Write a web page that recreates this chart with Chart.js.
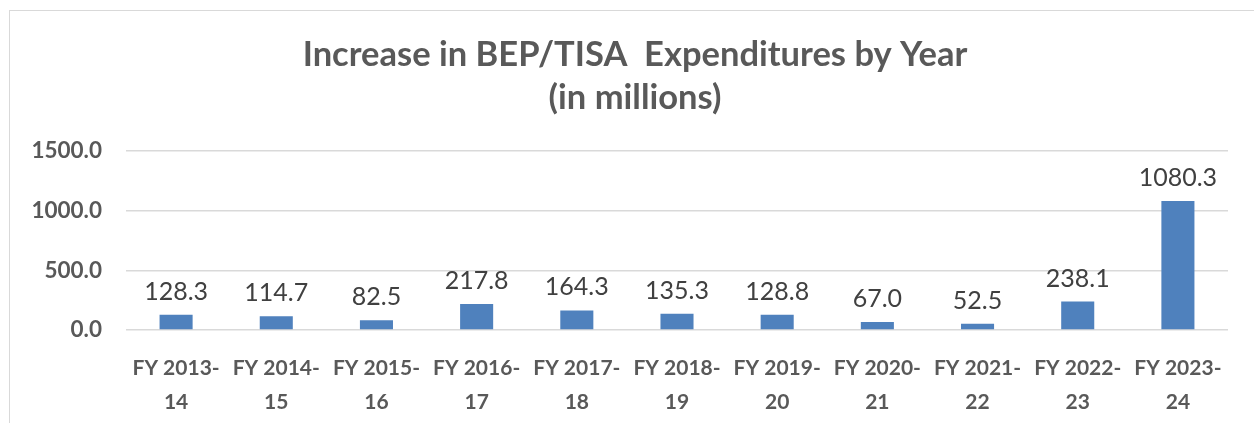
<!DOCTYPE html>
<html>
<head>
<meta charset="utf-8">
<script src="https://cdn.jsdelivr.net/npm/chart.js@4"></script>
<style>
  html, body { margin: 0; padding: 0; background: #fff; overflow: hidden; }
  #frame {
    position: absolute; left: 9px; top: 10px;
    width: 1252px; height: 421px;
    border-left: 1px solid #d9d9d9; border-top: 1px solid #d9d9d9;
  }
  canvas { display: block; }
</style>
</head>
<body>
<div id="frame"><canvas id="expChart" width="1252" height="421"></canvas></div>
<script>
// fiscal years on the x axis (two-line labels)
const years = [
  ['FY 2013-', '14'], ['FY 2014-', '15'], ['FY 2015-', '16'], ['FY 2016-', '17'],
  ['FY 2017-', '18'], ['FY 2018-', '19'], ['FY 2019-', '20'], ['FY 2020-', '21'],
  ['FY 2021-', '22'], ['FY 2022-', '23'], ['FY 2023-', '24']
];
// increase in expenditures, millions
const increases = [128.3, 114.7, 82.5, 217.8, 164.3, 135.3, 128.8, 67.0, 52.5, 238.1, 1080.3];
const yTicks = [0, 500, 1000, 1500];

const barLabels = {
    id: 'barLabels',
    afterDatasetsDraw(chart) {
        const ctx = chart.ctx;
        const meta = chart.getDatasetMeta(0);
        ctx.save();
        ctx.font = '25px Lato';
        ctx.fillStyle = '#404040';
        ctx.textAlign = 'center';
        ctx.textBaseline = 'alphabetic';
        meta.data.forEach(function(bar, i) {
            ctx.fillText(increases[i].toFixed(1), bar.x, bar.y - 15);
        });
        ctx.restore();
    }
};

function draw() {
    new Chart(document.getElementById('expChart'), {
        type: 'bar',
        data: {
            labels: years,
            datasets: [{
                data: increases,
                backgroundColor: '#4f81bd',
                categoryPercentage: 1.0,
                barPercentage: 0.33
            }]
        },
        options: {
            responsive: false,
            animation: false,
            layout: { padding: { left: 0, right: 2, top: 0, bottom: 0 } },
            plugins: {
                legend: { display: false },
                tooltip: { enabled: false },
                title: {
                    display: true,
                    text: ['Increase in BEP/TISA  Expenditures by Year', '(in millions)'],
                    color: '#595959',
                    font: { family: 'Lato', size: 34.5, weight: 'bold', lineHeight: '43px' },
                    padding: { top: 22, bottom: 32 }
                }
            },
            scales: {
                x: {
                    grid: { display: false },
                    border: { display: false },
                    ticks: {
                        color: '#595959',
                        font: { family: 'Lato', size: 21, weight: 'bold', lineHeight: '34px' },
                        maxRotation: 0,
                        autoSkip: false,
                        padding: 13
                    }
                },
                y: {
                    min: 0,
                    max: 1500,
                    afterBuildTicks(axis) { axis.ticks = yTicks.map(v => ({ value: v })); },
                    afterFit(axis) { axis.width = 116; },
                    grid: { color: '#d9d9d9', lineWidth: 1.5, drawTicks: false },
                    border: { display: false },
                    ticks: {
                        color: '#595959',
                        font: { family: 'Lato', size: 22.5, weight: 'bold' },
                        padding: 24,
                        callback: v => v.toFixed(1)
                    }
                },
                // empty right-hand margin so the title centres like the original
                yRight: {
                    position: 'right',
                    afterFit(axis) { axis.width = 32; },
                    grid: { display: false },
                    border: { display: false },
                    ticks: { display: false }
                }
            }
        },
        plugins: [barLabels]
    });
}

document.fonts.load('bold 34px Lato').then(draw, draw);
</script>
</body>
</html>
